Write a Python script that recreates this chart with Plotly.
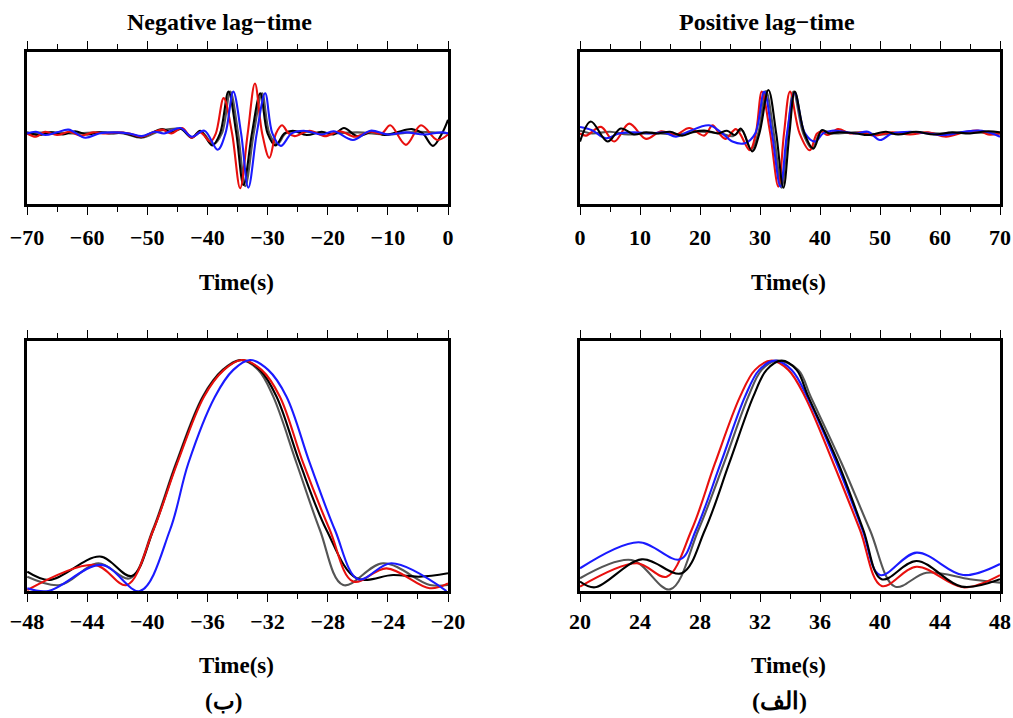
import plotly.graph_objects as go

# ---------------- data ----------------
# Top-left: negative lag-time waveforms (time s, normalized amplitude)
neg_red_t = [-70, -68.5, -67, -65, -63, -61, -59, -57, -55, -53, -51, -49, -47.5, -46, -44.2, -42.6, -41.2, -39.5, -38.6,
             -37.3, -35.9, -34.56, -33.3, -32.1, -30.9, -29.7, -28.6, -27.6, -26.5, -25.5, -23, -20.5, -18, -15.5, -13,
             -11, -9.6, -7.0, -4.5, -1.8, 0]
neg_red_y = [0.0, -0.06, 0.03, -0.03, 0.03, -0.04, 0.02, 0.0, 0.02, 0.0, -0.06, 0.02, 0.07, 0.0, 0.10, -0.08, 0.02, -0.15, 0.0,
             0.65, 0.0, -1.01, 0.0, 0.92, 0.0, -0.45, 0.0, 0.15, 0.0, -0.05, 0.05, -0.05, 0.04, -0.06, 0.03,
             0.0, 0.15, -0.21, 0.15, -0.12, -0.02]

neg_black_t = [-70, -68, -66, -64, -62, -60, -58, -56, -54, -51, -49.5, -47.5, -46, -44.4, -42.6, -41.2, -39.2, -37.9,
               -36.5, -35.2, -34.0, -32.6, -31.2, -30.0, -28.7, -27.2, -25.8, -23.5, -21, -19, -17.3, -15.1, -12.5,
               -10.5, -8.5, -6, -4.2, -2.5, -1, 0]
neg_black_y = [0.02, -0.03, 0.02, -0.02, 0.04, -0.02, 0.02, 0.0, 0.01, -0.07, 0.0, 0.08, 0.02, 0.08, -0.08, 0.05, -0.22, 0.0,
               0.77, 0.0, -0.95, 0.0, 0.74, 0.0, -0.22, 0.0, 0.05, -0.03, 0.03, -0.02, 0.10, -0.05, 0.03,
               -0.03, 0.02, 0.08, 0.0, -0.23, 0.0, 0.25]

neg_gray_t = [-70, -66, -62, -58, -54, -51, -47.5, -44.3, -42.6, -41, -39, -37.6, -36.2, -34.9, -33.7, -32.3, -30.9, -29.7,
              -28.4, -27, -25.5, -20, -15, -10, -5, 0]
neg_gray_y = [0.0, 0.02, 0.0, 0.02, 0.0, -0.08, 0.06, 0.08, -0.07, 0.03, -0.2, 0.0, 0.77, 0.0, -0.97, 0.0, 0.74, 0.0,
              -0.2, 0.0, 0.04, 0.0, 0.02, -0.02, 0.03, 0.0]

neg_blue_t = [-70, -68.5, -67, -65, -63.1, -60.3, -58, -55.5, -53, -50.9, -48.8, -47.2, -44.5, -42.6, -40.5, -38.3, -37.0,
              -35.7, -34.4, -33.2, -31.8, -30.4, -29.2, -27.8, -26, -24, -21, -19, -15.8, -12.9, -10, -7, -4, -1, 0]
neg_blue_y = [0.0, 0.03, -0.03, 0.02, 0.07, -0.08, 0.0, 0.02, 0.0, -0.05, 0.03, 0.0, 0.10, -0.06, 0.05, -0.3, 0.0,
              0.77, 0.0, -1.0, 0.0, 0.74, 0.0, -0.23, 0.0, 0.05, -0.02, 0.04, -0.12, 0.05, -0.02, 0.02, -0.02, 0.02, 0.0]

# Top-right: positive lag-time waveforms
pos_red_t = [0, 1.0, 3.5, 5.7, 8.2, 11.0, 13.5, 16, 18.2, 20.7, 22.1, 23.2, 24.3, 26.0, 28.3, 29.3, 30.3, 31.7, 33.05,
             34.0, 35.0, 36.6, 38.3, 39.5, 40.3, 41.3, 43.0, 45, 47, 49, 52, 55, 58, 61, 64, 66.5, 68, 70]
pos_red_y = [0.0, -0.04, 0.12, -0.15, 0.18, -0.10, 0.04, -0.02, 0.10, -0.04, 0.15, 0.0, -0.10, 0.08, -0.31, 0.0, 0.77, 0.0, -0.98,
             0.0, 0.77, 0.0, -0.31, 0.0, 0.03, -0.03, 0.08, 0.0, 0.02, -0.04, 0.02, -0.02, 0.02, -0.06, 0.02, 0.05, -0.02, 0.0]

pos_black_t = [0, 1.8, 4.6, 6.8, 9, 11, 13, 15, 17, 19, 21, 23, 24.5, 25.8, 26.8, 28.7, 29.9, 31.4, 32.7, 33.9, 34.9,
               35.8, 37.4, 38.9, 40.3, 41.5, 43, 46, 48, 51, 53, 56, 59, 62, 65, 68, 70]
pos_black_y = [-0.15, 0.22, -0.15, 0.09, -0.02, 0.02, 0.0, 0.03, -0.04, 0.03, 0.05, 0.0, 0.05, -0.03, 0.09, -0.33, 0.0, 0.80, 0.0, -1.0, 0.0,
               0.77, 0.0, -0.28, 0.06, 0.0, 0.02, 0.0, -0.03, 0.03, -0.02, 0.03, -0.02, 0.02, 0.0, 0.04, 0.02]

pos_gray_t = [0, 2, 5, 8, 12, 16, 20, 23.5, 25.5, 27, 28.5, 29.7, 31.0, 32.3, 33.6, 34.6, 35.6, 37.2, 38.7, 40.2, 42, 46,
              50, 55, 60, 65, 70]
pos_gray_y = [0.05, 0.0, 0.03, -0.02, 0.01, -0.02, 0.03, 0.0, -0.05, 0.06, -0.30, 0.0, 0.78, 0.0, -1.0, 0.0, 0.77, 0.0, -0.28, 0.05, 0.0, 0.02,
              -0.02, 0.02, 0.0, 0.02, 0.0]

pos_blue_t = [0, 2, 4.3, 6.5, 9, 12, 14, 16, 18, 21.5, 23.5, 25.4, 27.5, 29.2, 30.7, 32.0, 33.4, 34.5, 35.8, 37.5, 39.2,
              40.5, 42, 44, 46, 48, 50, 52, 55, 58, 61, 64, 67, 70]
pos_blue_y = [0.12, 0.06, -0.09, 0.0, 0.02, 0.0, 0.02, -0.06, 0.03, 0.15, 0.02, -0.15, -0.18, 0.0, 0.77, 0.0, -0.98, 0.0, 0.75, 0.0, -0.15,
              0.0, 0.05, 0.03, 0.0, 0.03, -0.12, 0.0, 0.03, 0.0, -0.03, 0.03, 0.05, -0.06]

# Bottom-left: envelopes, negative lag-time (zoom)
envn_black_t = [-47.98, -46.47, -43.15, -41.04, -39.60, -38.05, -36.28, -34.95, -33.73, -32.51, -31.40, -29.85, -28.08,
                -26.08, -23.65, -21.87, -20.0]
envn_black_y = [0.084, 0.048, 0.149, 0.065, 0.264, 0.553, 0.841, 0.957, 1.0, 0.957, 0.841, 0.553, 0.264, 0.055, 0.069,
                0.062, 0.077]
envn_gray_t = [-47.98, -45.81, -43.26, -41.15, -39.64, -38.09, -36.32, -34.99, -33.84, -32.62, -31.62, -30.07, -28.52,
               -26.97, -24.31, -21.21, -20.0]
envn_gray_y = [0.062, 0.026, 0.120, 0.055, 0.264, 0.553, 0.841, 0.957, 1.0, 0.957, 0.841, 0.553, 0.264, 0.026, 0.120,
               0.026, 0.026]
envn_red_t = [-47.98, -43.48, -41.37, -39.60, -38.01, -36.23, -34.90, -33.73, -32.40, -31.18, -29.63, -27.86, -26.31,
              -24.09, -21.21, -20.0]
envn_red_y = [0.004, 0.113, 0.026, 0.264, 0.553, 0.841, 0.957, 1.0, 0.957, 0.841, 0.553, 0.264, 0.041, 0.098, 0.012,
              0.033]
envn_blue_t = [-47.98, -46.58, -43.04, -40.49, -38.49, -37.27, -35.50, -34.28, -33.17, -31.96, -30.74, -29.19, -27.52,
               -25.97, -23.76, -20.1]
envn_blue_y = [0.012, 0.0, 0.113, 0.0, 0.264, 0.553, 0.841, 0.957, 1.0, 0.957, 0.841, 0.553, 0.264, 0.051, 0.120, 0.0]

# Bottom-right: envelopes, positive lag-time (zoom)
envp_red_t = [20.0, 23.78, 25.78, 27.44, 29.0, 30.67, 31.67, 32.78, 33.89, 35.0, 36.89, 38.67, 40.11, 42.44, 45.55, 48.0]
envp_red_y = [0.019, 0.120, 0.062, 0.264, 0.553, 0.841, 0.957, 0.997, 0.957, 0.841, 0.553, 0.264, 0.022, 0.105, 0.016, 0.069]
envp_blue_t = [20.0, 23.89, 26.67, 27.73, 29.38, 31.0, 31.95, 33.0, 34.11, 35.15, 37.11, 38.84, 40.0, 42.44, 45.55, 48.0]
envp_blue_y = [0.098, 0.211, 0.137, 0.264, 0.553, 0.841, 0.957, 0.997, 0.957, 0.841, 0.553, 0.264, 0.069, 0.166, 0.069, 0.117]
envp_gray_t = [20.0, 23.44, 26.0, 27.89, 29.6, 31.22, 32.11, 33.11, 34.55, 35.38, 37.44, 39.33, 41.0, 43.1, 46.0, 48.0]
envp_gray_y = [0.055, 0.134, 0.007, 0.264, 0.553, 0.841, 0.957, 0.997, 0.957, 0.841, 0.553, 0.264, 0.019, 0.079, 0.051, 0.036]
envp_black_t = [20.0, 21.0, 24.11, 26.78, 28.33, 29.95, 31.55, 32.44, 33.44, 34.44, 35.22, 37.22, 38.89, 40.11, 42.44,
                45.44, 48.0]
envp_black_y = [0.041, 0.016, 0.137, 0.077, 0.264, 0.553, 0.841, 0.957, 0.997, 0.957, 0.841, 0.553, 0.264, 0.051, 0.130,
                0.019, 0.051]

titles = ["Negative lag\u2212time", "Positive lag\u2212time"]
xlabel = "Time(s)"
panel_tags = ["(\u0628)", "(\u0627\u0644\u0641)"]

# ---------------- styling ----------------
C_BLACK = "#000000"
C_GRAY = "#555555"
C_RED = "#e8100e"
C_BLUE = "#1a1aff"
FONT = "Liberation Serif"

W, H = 1013, 718


def px_x(px):
    return px / W


def px_y(py):
    return 1 - py / H


fig = go.Figure()


def add(xs, ys, color, xa, ya, width=2.1):
    fig.add_trace(go.Scatter(x=xs, y=ys, mode="lines", xaxis=xa, yaxis=ya,
                             line=dict(color=color, width=width, shape="spline", smoothing=1.0),
                             showlegend=False, hoverinfo="skip"))


# top-left
add(neg_gray_t, neg_gray_y, C_GRAY, "x", "y")
add(neg_black_t, neg_black_y, C_BLACK, "x", "y")
add(neg_red_t, neg_red_y, C_RED, "x", "y")
add(neg_blue_t, neg_blue_y, C_BLUE, "x", "y")
# top-right
add(pos_gray_t, pos_gray_y, C_GRAY, "x2", "y2")
add(pos_red_t, pos_red_y, C_RED, "x2", "y2")
add(pos_blue_t, pos_blue_y, C_BLUE, "x2", "y2")
add(pos_black_t, pos_black_y, C_BLACK, "x2", "y2")
# bottom-left
add(envn_gray_t, envn_gray_y, C_GRAY, "x3", "y3")
add(envn_black_t, envn_black_y, C_BLACK, "x3", "y3")
add(envn_red_t, envn_red_y, C_RED, "x3", "y3")
add(envn_blue_t, envn_blue_y, C_BLUE, "x3", "y3")
# bottom-right
add(envp_gray_t, envp_gray_y, C_GRAY, "x4", "y4")
add(envp_red_t, envp_red_y, C_RED, "x4", "y4")
add(envp_blue_t, envp_blue_y, C_BLUE, "x4", "y4")
add(envp_black_t, envp_black_y, C_BLACK, "x4", "y4")

left_dom = [px_x(27), px_x(448)]
right_dom = [px_x(580), px_x(1000)]
top_dom = [px_y(204), px_y(52)]
bot_dom = [px_y(591), px_y(341)]


def xaxis(dom, anchor, rng, dt, mdt, standoff):
    return dict(domain=dom, anchor=anchor, range=rng, dtick=dt, tick0=0, automargin=False,
                showline=True, linewidth=2.6, linecolor="black", mirror="allticks",
                ticks="outside", ticklen=8, tickwidth=1.4, tickcolor="black",
                ticklabelstandoff=standoff,
                minor=dict(dtick=mdt, ticks="outside", ticklen=5, tickwidth=1.2, tickcolor="black"),
                showgrid=False, zeroline=False, fixedrange=True,
                tickfont=dict(family=FONT, size=22, color="black", weight="bold"))


def yaxis(dom, anchor, rng):
    return dict(domain=dom, anchor=anchor, range=rng, showline=True, linewidth=2.6, automargin=False,
                linecolor="black", mirror=True, ticks="", showticklabels=False,
                showgrid=False, zeroline=False, fixedrange=True)


fig.update_layout(
    width=W, height=H, autosize=False,
    margin=dict(l=0, r=0, t=0, b=0, pad=0, autoexpand=False),
    paper_bgcolor="white", plot_bgcolor="white",
    xaxis=xaxis(left_dom, "y", [-70, 0], 10, 5, 4),
    yaxis=yaxis(top_dom, "x", [-1.3, 1.5]),
    xaxis2=xaxis(right_dom, "y2", [0, 70], 10, 5, 4),
    yaxis2=yaxis(top_dom, "x2", [-1.3, 1.5]),
    xaxis3=xaxis(left_dom, "y3", [-48, -20], 4, 2, 1),
    yaxis3=yaxis(bot_dom, "x3", [0, 1.082]),
    xaxis4=xaxis(right_dom, "y4", [20, 48], 4, 2, 1),
    yaxis4=yaxis(bot_dom, "x4", [0, 1.082]),
)

ann = []


def text(x, y, s, size=23):
    ann.append(dict(x=px_x(x), y=px_y(y), xref="paper", yref="paper", text=s, showarrow=False,
                    xanchor="center", yanchor="middle",
                    font=dict(family=FONT, size=size, color="black", weight="bold")))


text(219, 22, titles[0], size=24)
text(767, 22, titles[1], size=24)
text(236, 282, xlabel)
text(788, 282, xlabel)
text(236, 665, xlabel)
text(788, 665, xlabel)
text(223, 701, panel_tags[0], size=23)
text(779, 701, panel_tags[1], size=24)
fig.update_layout(annotations=ann)

fig.write_html("out.html")
